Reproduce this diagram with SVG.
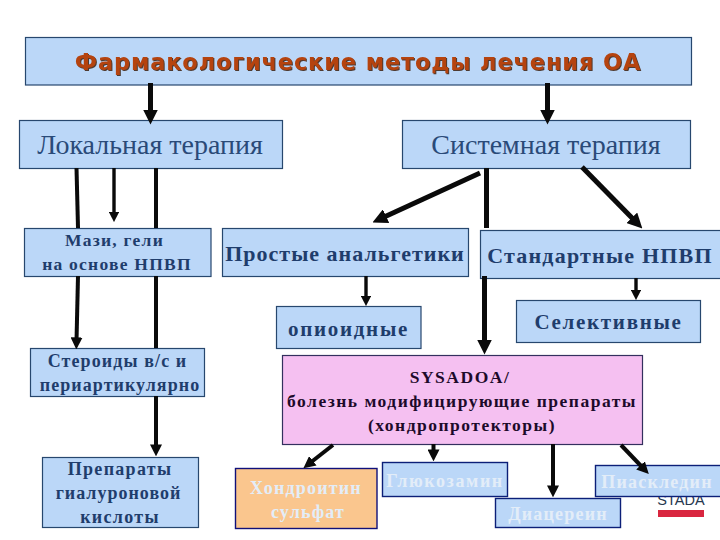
<svg xmlns="http://www.w3.org/2000/svg" width="720" height="540" viewBox="0 0 720 540">
<defs>
<style>
.b{fill:#bbd7f8;stroke:#27476e;stroke-width:1.2}
.p{fill:#f5c0f1;stroke:#33305e;stroke-width:1.2}
.o{fill:#fac68e;stroke:#10107a;stroke-width:1.4}
.n{fill:#bbd7f8;stroke:#0c1f78;stroke-width:1.4}
text{font-family:"Liberation Serif","Times New Roman",serif;text-anchor:middle}
.t{fill:#1f3d6c;font-weight:bold}
.r{fill:#2a4a78;font-size:28px}
.k{fill:#1d0a2a;font-weight:bold;font-size:17.5px;letter-spacing:1.5px}
.w{fill:#e3edf8;font-weight:bold;font-size:18px;letter-spacing:1.2px}
.c{stroke:#0a0a0a;fill:none}
.a{marker-end:url(#h)}
.s5{stroke-width:5}.s4{stroke-width:4}.s3{stroke-width:3.4}
</style>
<marker id="h" viewBox="0 0 10 10" refX="3" refY="5" markerWidth="3" markerHeight="3" orient="auto"><path d="M0,0 L10,5 L0,10 Z" fill="#0a0a0a"/></marker>
</defs>
<rect width="720" height="540" fill="#fff"/>
<g id="logo"><text x="681" y="505" style="font-family:'Liberation Sans',sans-serif;font-size:14.500px;fill:#26384f">STADA</text><rect x="658" y="510" width="46" height="7" fill="#d9263f"/></g>
<g id="title"><rect class="b" x="25.500" y="37.500" width="666" height="47.500"/><text x="358" y="70" style="font-family:'DejaVu Sans',sans-serif;font-weight:bold;font-size:22.500px;letter-spacing:.85px;fill:#b5430f;filter:drop-shadow(1px 1px 0 #4f3a30)">Фармакологические методы лечения ОА</text></g>
<g id="local"><rect class="b" x="19.500" y="120.500" width="263" height="48"/><text class="r" x="150" y="154">Локальная терапия</text></g>
<g id="system"><rect class="b" x="402.500" y="120.500" width="288" height="48"/><text class="r" x="546" y="154">Системная терапия</text></g>
<g id="mazi"><rect class="b" x="24.500" y="228.500" width="186.500" height="48"/><text class="t" style="font-size:17.500px;letter-spacing:1.250px" x="114.500" y="246">Мази, гели</text><text class="t" style="font-size:17.500px;letter-spacing:1.250px" x="117" y="270">на основе НПВП</text></g>
<g id="prostye"><rect class="b" x="222.500" y="228.500" width="246" height="48"/><text class="t" style="font-size:22px;letter-spacing:1px" x="345" y="261">Простые анальгетики</text></g>
<g id="standart"><rect class="b" x="480.500" y="230.500" width="245" height="48"/><text class="t" style="font-size:22px;letter-spacing:1.200px" x="600" y="263">Стандартные НПВП</text></g>
<g id="opioid"><rect class="b" x="276.500" y="306.500" width="144.500" height="42"/><text class="t" style="font-size:21px;letter-spacing:1.700px" x="348.500" y="336">опиоидные</text></g>
<g id="select"><rect class="b" x="516.500" y="300.500" width="184" height="42"/><text class="t" style="font-size:21px;letter-spacing:1.700px" x="608.500" y="329">Селективные</text></g>
<g id="steroid"><rect class="b" x="30.500" y="348.500" width="174" height="48"/><text class="t" style="font-size:18px;letter-spacing:1.100px" x="117.500" y="367">Стероиды в/с и</text><text class="t" style="font-size:18px;letter-spacing:1.050px" x="120" y="391">периартикулярно</text></g>
<g id="hyal"><rect class="b" x="42.500" y="457.500" width="156" height="70"/><text class="t" style="font-size:18px;letter-spacing:1.300px" x="120" y="475">Препараты</text><text class="t" style="font-size:18px;letter-spacing:1px" x="118.500" y="499">гиалуроновой</text><text class="t" style="font-size:18px;letter-spacing:1.300px" x="120" y="523">кислоты</text></g>
<g id="sysadoa"><rect class="p" x="282.500" y="355.500" width="360" height="89"/><text class="k" x="460" y="383">SYSADOA/</text><text class="k" x="462" y="407">болезнь модифицирующие препараты</text><text class="k" x="462" y="431">(хондропротекторы)</text></g>
<g id="chondro"><rect class="o" x="235.500" y="468.500" width="141.500" height="60"/><text class="w" x="306" y="494">Хондроитин</text><text class="w" x="308" y="518">сульфат</text></g>
<g id="gluco"><rect class="n" x="382.500" y="462.500" width="125" height="34"/><text class="w" style="letter-spacing:1.600px" x="445" y="487">Глюкозамин</text></g>
<g id="diacer"><rect class="n" x="495.500" y="498.500" width="125" height="29"/><text class="w" x="558" y="520">Диацереин</text></g>
<g id="piasc"><rect class="n" x="595.500" y="465.500" width="130" height="31"/><text class="w" x="657" y="488">Пиаскледин</text></g>
<g id="connectors" class="c">
<path class="s5 a" d="M150.500,83V114"/>
<path class="s5 a" d="M547.500,83V114"/>
<path class="s4" d="M76.500,168L78,228"/>
<path class="s4 a" d="M78,276L76.500,341"/>
<path class="s3 a" d="M114,168V215"/>
<path class="s4" d="M156,168V228"/>
<path class="s4" d="M156,276V348"/>
<path class="s4 a" d="M156,396V448"/>
<path class="s5 a" d="M480,173L382,218"/>
<path class="s5" d="M486.500,168V228"/>
<path class="s5 a" d="M484.500,276V344"/>
<path class="s5 a" d="M582,167L635,221"/>
<path class="s3 a" d="M366,276V299"/>
<path class="s3 a" d="M636,278V293"/>
<path class="s4 a" d="M333,445L310,463"/>
<path class="s4 a" d="M433.500,444V453"/>
<path class="s4 a" d="M553,444V489"/>
<path class="s4 a" d="M621,445L643,468"/>
</g>
</svg>
